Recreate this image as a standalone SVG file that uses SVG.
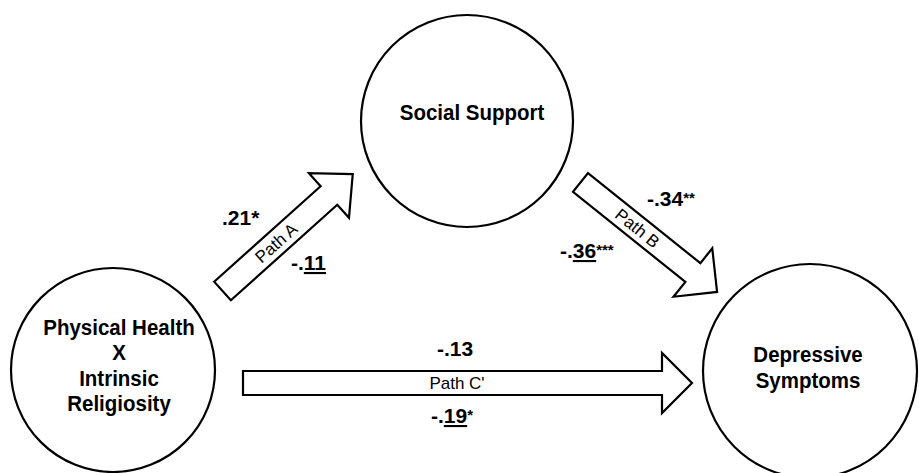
<svg xmlns="http://www.w3.org/2000/svg" width="919" height="473" viewBox="0 0 919 473">
<style>
.node{fill:#fff;stroke:#000;stroke-width:2.2}
.arrow{fill:#fff;stroke:#000;stroke-width:2.2;stroke-linejoin:miter}
.nt{font-family:"Liberation Sans",Arial,sans-serif;font-weight:bold;font-size:20.5px;text-anchor:middle;fill:#000}
.lb{font-family:"Liberation Sans",Arial,sans-serif;font-weight:bold;font-size:21px;fill:#000}
.pt{font-family:"Liberation Sans",Arial,sans-serif;font-size:17px;text-anchor:middle;fill:#000}
.u{text-decoration:underline}
.sm{font-size:15px}
</style>
<rect width="919" height="473" fill="#fff"/>
<g id="connectors">
  <g id="pathA">
    <g transform="translate(222.5,291) rotate(-41.9)">
      <polygon class="arrow" points="0,-12.5 143,-12.5 143,-30 175,0 143,30 143,12.5 0,12.5"/>
      <text class="pt" x="72" y="6">Path A</text>
    </g>
    <text class="lb" x="222" y="225">.21*</text>
    <text class="lb" x="291" y="270">-.<tspan class="u">11</tspan></text>
  </g>
  <g id="pathB">
    <g transform="translate(580.5,182.5) rotate(38.7)">
      <polygon class="arrow" points="0,-12 144,-12 144,-31 175,0 144,31 144,12 0,12"/>
      <text class="pt" x="73" y="6">Path B</text>
    </g>
    <text class="lb" x="647" y="206">-.34<tspan class="sm" dy="-3">**</tspan></text>
    <text class="lb" x="560" y="258">-.<tspan class="u">36</tspan><tspan class="sm" dy="-3">***</tspan></text>
  </g>
  <g id="pathC">
    <polygon class="arrow" points="243,371 662,371 662,353 692,383 662,413 662,395 243,395"/>
    <text class="pt" x="457" y="389">Path C'</text>
    <text class="lb" x="455" y="356" text-anchor="middle">-.13</text>
    <text class="lb" x="452" y="423" text-anchor="middle">-.<tspan class="u">19</tspan><tspan class="sm" dy="-3">*</tspan></text>
  </g>
</g>
<g id="social-support">
  <circle class="node" cx="467" cy="121" r="106"/>
  <text class="nt" transform="translate(472,120) scale(1,1.12)">Social Support</text>
</g>
<g id="physical-health">
  <circle class="node" cx="113" cy="370" r="102"/>
  <text class="nt" transform="translate(119,335) scale(1,1.12)">Physical Health</text>
  <text class="nt" transform="translate(119,360) scale(1,1.12)">X</text>
  <text class="nt" transform="translate(119,386) scale(1,1.12)">Intrinsic</text>
  <text class="nt" transform="translate(119,411) scale(1,1.12)">Religiosity</text>
</g>
<g id="depressive-symptoms">
  <circle class="node" cx="810" cy="371" r="107"/>
  <text class="nt" transform="translate(808,362) scale(1,1.12)">Depressive</text>
  <text class="nt" transform="translate(808,388) scale(1,1.12)">Symptoms</text>
</g>
</svg>
